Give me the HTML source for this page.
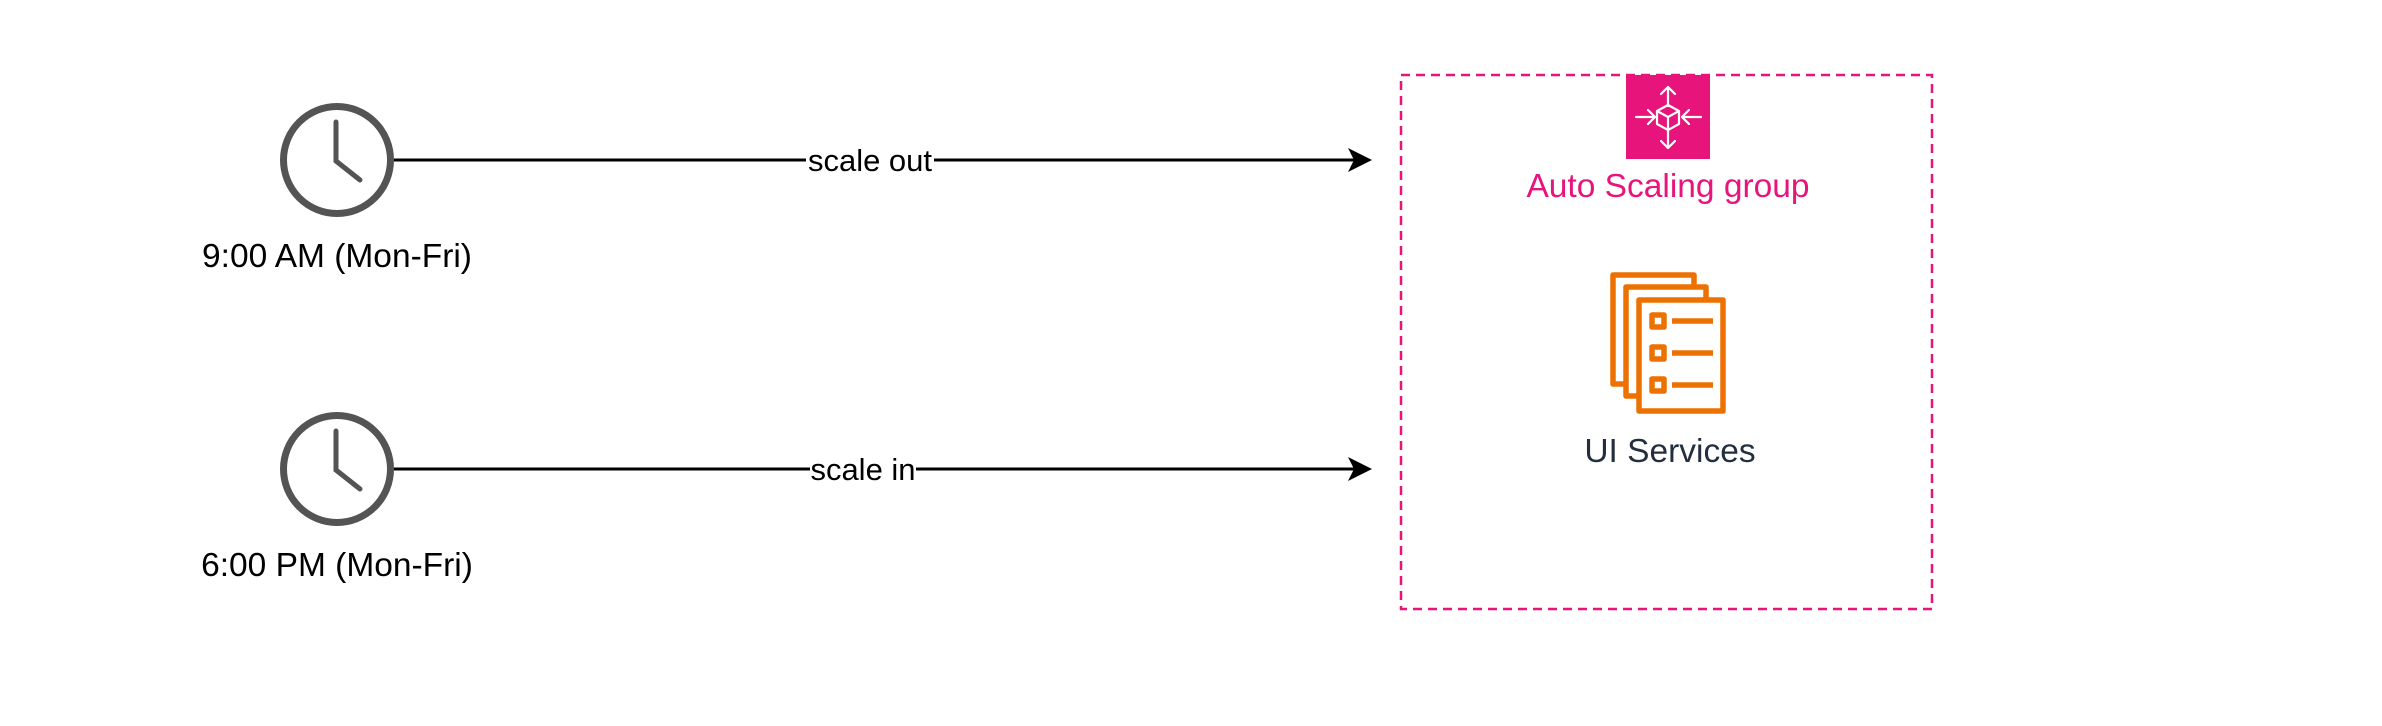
<!DOCTYPE html>
<html><head><meta charset="utf-8"><style>
html,body{margin:0;padding:0;background:#fff;}
svg{display:block;}
text{font-family:"Liberation Sans",Arial,sans-serif;}
</style></head><body>
<svg width="2382" height="726" viewBox="0 0 2382 726" xmlns="http://www.w3.org/2000/svg">
<rect width="2382" height="726" fill="#fff"/>
<g fill="none" stroke="#545454" stroke-linecap="round">
<circle cx="337" cy="160" r="53.5" stroke-width="7"/>
<polyline points="336,122 336,161 360,180" stroke-width="5"/>
<circle cx="337" cy="469" r="53.5" stroke-width="7"/>
<polyline points="336,431 336,470 360,489" stroke-width="5"/>
</g>
<text x="337" y="267" font-size="33.5" text-anchor="middle" fill="#000">9:00 AM (Mon-Fri)</text>
<text x="337" y="576" font-size="33.5" text-anchor="middle" fill="#000">6:00 PM (Mon-Fri)</text>
<g stroke="#000" stroke-width="3">
<line x1="394" y1="160" x2="806" y2="160"/>
<line x1="934" y1="160" x2="1360" y2="160"/>
<line x1="394" y1="469" x2="810" y2="469"/>
<line x1="916" y1="469" x2="1360" y2="469"/>
</g>
<path d="M1372,160 L1348,148 L1354,160 L1348,172 Z" fill="#000"/>
<path d="M1372,469 L1348,457 L1354,469 L1348,481 Z" fill="#000"/>
<text x="870" y="171" font-size="31" text-anchor="middle" fill="#000">scale out</text>
<text x="863" y="480" font-size="31" text-anchor="middle" fill="#000">scale in</text>
<rect x="1401" y="75" width="531" height="534" fill="none" stroke="#E7157B" stroke-width="2.5" stroke-dasharray="9,6"/>
<rect x="1626" y="75" width="84" height="84" fill="#E7157B"/>
<g stroke="#fff" stroke-width="2.2" fill="none" stroke-linecap="round" stroke-linejoin="round">
<path d="M1668,87 L1668,106 M1661,94 L1668,87 L1675,94"/>
<path d="M1668,148 L1668,130 M1661,141 L1668,148 L1675,141"/>
<path d="M1636,117 L1654,117 M1648,110 L1655,117 L1648,124"/>
<path d="M1701,117 L1683,117 M1689,110 L1682,117 L1689,124"/>
<path d="M1668,105 L1679,111 L1679,124 L1668,130 L1657,124 L1657,111 Z M1657,111 L1668,117 L1679,111 M1668,117 L1668,130"/>
</g>
<text x="1668" y="197" font-size="33.5" text-anchor="middle" fill="#E7157B">Auto Scaling group</text>
<g fill="none" stroke="#ED7100" stroke-width="5.5" stroke-linejoin="round">
<path d="M1694,289 L1694,275 L1613,275 L1613,384 L1626,384"/>
<path d="M1706,300 L1706,287 L1626,287 L1626,396 L1639,396"/>
<rect x="1639" y="300" width="84" height="111"/>
<rect x="1652" y="315" width="12" height="12"/>
<rect x="1652" y="347" width="12" height="12"/>
<rect x="1652" y="379" width="12" height="12"/>
<path d="M1672,321 L1713,321 M1672,353 L1713,353 M1672,385 L1713,385"/>
</g>
<text x="1670" y="462" font-size="33.5" text-anchor="middle" fill="#232F3E">UI Services</text>
</svg>
</body></html>
